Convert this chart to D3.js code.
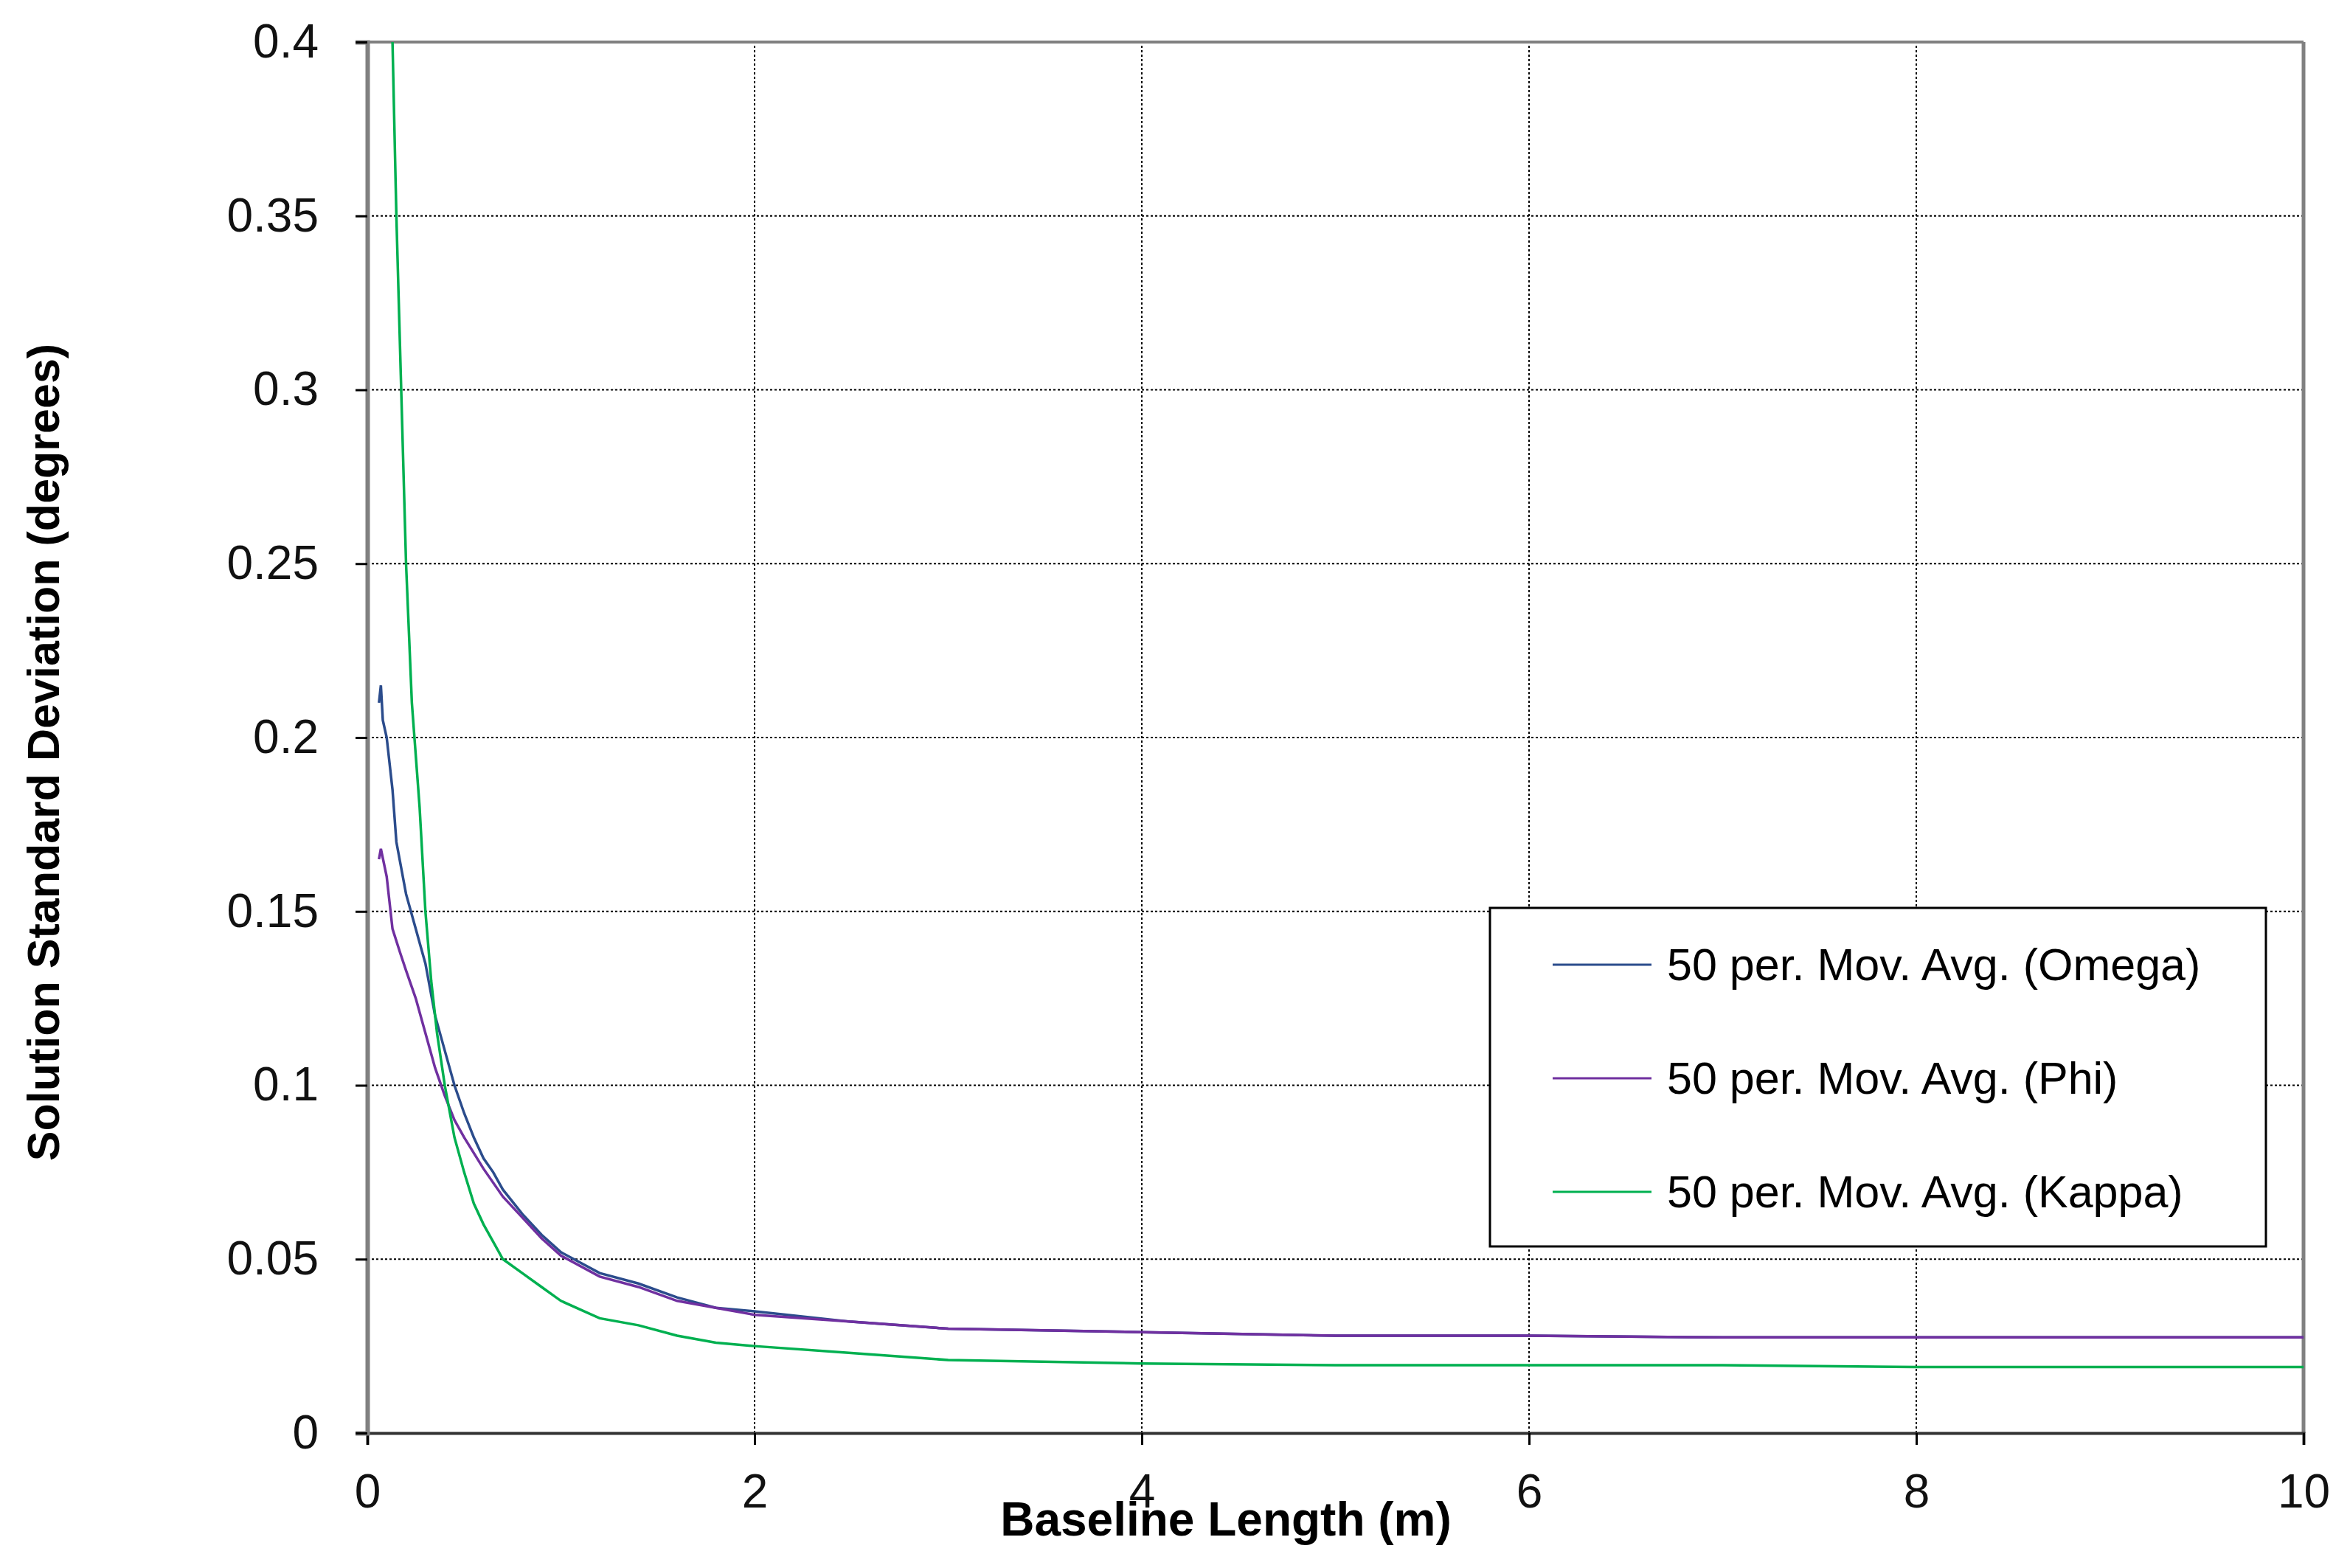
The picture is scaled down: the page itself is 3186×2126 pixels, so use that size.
<html>
<head>
<style>
body { margin: 0; background: #fff; font-family: Arial, "Liberation Sans", sans-serif; }
</style>
</head>
<body>
<script src="https://cdn.jsdelivr.net/npm/d3@7"></script>
<script>
var width = 3186, height = 2126,
	margin = {left: 498, right: 63, top: 57, bottom: 183};

var xTicks = [0, 2, 4, 6, 8, 10];
var yTicks = [0, 0.05, 0.1, 0.15, 0.2, 0.25, 0.3, 0.35, 0.4];
var seriesNames = ["50 per. Mov. Avg. (Omega)", "50 per. Mov. Avg. (Phi)", "50 per. Mov. Avg. (Kappa)"];
var seriesColors = ["#2b4c8c", "#7030a0", "#00b050"];

var omegaX = [0.06,0.07,0.08,0.1,0.13,0.15,0.2,0.25,0.3,0.35,0.4,0.45,0.5,0.55,0.6,0.65,0.7,0.8,0.9,1.0,1.2,1.4,1.6,1.8,2,2.5,3,4,5,6,7,8,10];
var omegaY = [0.21,0.215,0.205,0.2,0.185,0.17,0.155,0.145,0.135,0.12,0.11,0.1,0.092,0.085,0.079,0.075,0.07,0.063,0.057,0.052,0.046,0.043,0.039,0.036,0.035,0.032,0.03,0.029,0.028,0.028,0.0275,0.0275,0.0275];
var phiX = [0.06,0.07,0.1,0.13,0.17,0.2,0.25,0.3,0.35,0.4,0.45,0.5,0.6,0.7,0.8,0.9,1.0,1.2,1.4,1.6,1.8,2,2.5,3,4,5,6,7,8,10];
var phiY = [0.165,0.168,0.16,0.145,0.138,0.133,0.125,0.115,0.105,0.097,0.09,0.085,0.076,0.068,0.062,0.056,0.051,0.045,0.042,0.038,0.036,0.034,0.032,0.03,0.029,0.028,0.028,0.0275,0.0275,0.0275];
var kappaX = [0.13,0.15,0.18,0.2,0.23,0.27,0.3,0.33,0.36,0.4,0.45,0.5,0.55,0.6,0.65,0.7,0.8,0.9,1.0,1.2,1.4,1.6,1.8,2.0,2.5,3,4,5,6,7,8,9,10];
var kappaY = [0.4,0.35,0.29,0.25,0.21,0.18,0.15,0.13,0.115,0.1,0.085,0.075,0.066,0.06,0.055,0.05,0.046,0.042,0.038,0.033,0.031,0.028,0.026,0.025,0.023,0.021,0.02,0.0195,0.0195,0.0195,0.019,0.019,0.019];

var series = [[omegaX, omegaY], [phiX, phiY], [kappaX, kappaY]];

var svg = d3.select("body").append("svg")
	.attr("width", width)
	.attr("height", height);

var x = d3.scaleLinear().domain([0, 10]).range([margin.left, width - margin.right]);
var y = d3.scaleLinear().domain([0, 0.4]).range([height - margin.bottom, margin.top]);

// grid
svg.append("g").selectAll("line").data(xTicks.slice(1, -1)).enter().append("line")
	.attr("x1", d => x(d)).attr("x2", d => x(d))
	.attr("y1", y(0)).attr("y2", y(0.4))
	.attr("stroke", "#000").attr("stroke-width", 2).attr("stroke-dasharray", "3,3");
svg.append("g").selectAll("line").data(yTicks.slice(1)).enter().append("line")
	.attr("x1", x(0)).attr("x2", x(10))
	.attr("y1", d => y(d)).attr("y2", d => y(d))
	.attr("stroke", "#000").attr("stroke-width", 2).attr("stroke-dasharray", "3,3");

// frame
svg.append("line").attr("x1", x(10)).attr("x2", x(10)).attr("y1", y(0)).attr("y2", y(0.4))
	.attr("stroke", "#808080").attr("stroke-width", 5);
svg.append("line").attr("x1", x(0)).attr("x2", x(10)).attr("y1", y(0.4)).attr("y2", y(0.4))
	.attr("stroke", "#808080").attr("stroke-width", 4);

// axes
var xAxis = svg.append("g").attr("transform", "translate(0," + y(0) + ")")
	.call(d3.axisBottom(x).tickValues(xTicks).tickSize(16).tickPadding(40).tickFormat(d3.format("d")));
var yAxis = svg.append("g").attr("transform", "translate(" + x(0) + ",0)")
	.call(d3.axisLeft(y).tickValues(yTicks).tickSize(16).tickPadding(50).tickFormat(d => d === 0 ? "0" : String(d)));
[xAxis, yAxis].forEach(function(a) {
	a.select(".domain").attr("stroke", "#333").attr("stroke-width", 4);
	a.selectAll(".tick line").attr("stroke", "#000").attr("stroke-width", 3);
	a.selectAll("text").attr("font-size", 64).attr("fill", "#111").attr("font-family", "Arial, 'Liberation Sans', sans-serif");
});
yAxis.select(".domain").attr("stroke", "#808080").attr("stroke-width", 6);

// lines
var line = d3.line();
series.forEach(function(s, i) {
	var pts = s[0].map((v, j) => [x(v), y(s[1][j])]);
	svg.append("path").attr("d", line(pts))
		.attr("fill", "none").attr("stroke", seriesColors[i]).attr("stroke-width", 3.5);
});

// titles
svg.append("text").attr("x", 1662).attr("y", 2082).attr("text-anchor", "middle")
	.attr("font-size", 64).attr("font-weight", "bold").text("Baseline Length (m)");
svg.append("text").attr("transform", "translate(80," + ((y(0) + y(0.4)) / 2 + 20) + ") rotate(-90)")
	.attr("text-anchor", "middle").attr("font-size", 61).attr("font-weight", "bold")
	.text("Solution Standard Deviation (degrees)");

// legend
var lg = svg.append("g");
lg.append("rect").attr("x", 2020).attr("y", 1231).attr("width", 1052).attr("height", 459)
	.attr("fill", "#fff").attr("stroke", "#000").attr("stroke-width", 3);
seriesNames.forEach(function(n, i) {
	var cy = 1308 + i * 154;
	lg.append("line").attr("x1", 2105).attr("x2", 2239).attr("y1", cy).attr("y2", cy)
		.attr("stroke", seriesColors[i]).attr("stroke-width", 3);
	lg.append("text").attr("x", 2260).attr("y", cy + 21).attr("font-size", 61).text(n);
});
</script>
</body>
</html>
